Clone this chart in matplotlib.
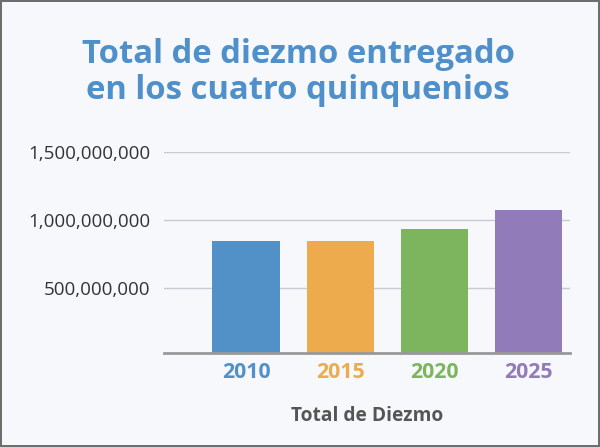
import matplotlib
matplotlib.use("Agg")
from matplotlib import pyplot as plt
from matplotlib.ticker import FuncFormatter

# datos
years = ["2010", "2015", "2020", "2025"]
diezmo = [848000000, 846000000, 936000000, 1076000000]
colors = ["#5290c8", "#edab4d", "#7db55e", "#917bb8"]
yticks = [500000000, 1000000000, 1500000000]

plt.rcParams['font.family'] = ['Open Sans', 'DejaVu Sans']

fig = plt.figure(figsize=(6, 4.47), dpi=100)
fig.patch.set_facecolor("#f7f8fc")
fig.patch.set_edgecolor("#6e6e6e")
fig.patch.set_linewidth(1.5)

ax = fig.add_axes([0.2733, 0.2096, 0.6767, 0.4497])
ax.set_facecolor("#f7f8fc")

x = range(len(years))
ax.bar(x, diezmo, width=0.72, color=colors, zorder=3)

ax.set_xlim(-0.875, 3.44)
ax.set_ylim(22000000, 1500000000)
ax.set_yticks(yticks)
ax.yaxis.set_major_formatter(FuncFormatter(lambda v, p: "{:,.0f}".format(v)))
ax.grid(axis="y", color="#c9c9d2", linewidth=1, zorder=0)
ax.tick_params(axis="y", length=0, pad=10, labelsize=13.5, labelcolor="#333333")

ax.set_xticks(list(x))
ax.set_xticklabels(years)
ax.tick_params(axis="x", length=0, pad=6, labelsize=15.3)
for lbl, c in zip(ax.get_xticklabels(), colors):
    lbl.set_color(c)
    lbl.set_fontweight("bold")

for s in ["top", "right", "left"]:
    ax.spines[s].set_visible(False)
ax.spines["bottom"].set_color("#999999")
ax.spines["bottom"].set_linewidth(2)
ax.spines["bottom"].set_zorder(4)

ax.set_xlabel("Total de Diezmo", fontsize=13.8, fontweight="bold", color="#555555", labelpad=17)

fig.text(0.497, 0.838, "Total de diezmo entregado\nen los cuatro quinquenios",
         ha="center", va="center", fontsize=23.6, fontweight="bold", color="#4f8fca",
         linespacing=1.15)

plt.savefig("out.png", dpi=100, facecolor=fig.get_facecolor(), edgecolor=fig.get_edgecolor())
